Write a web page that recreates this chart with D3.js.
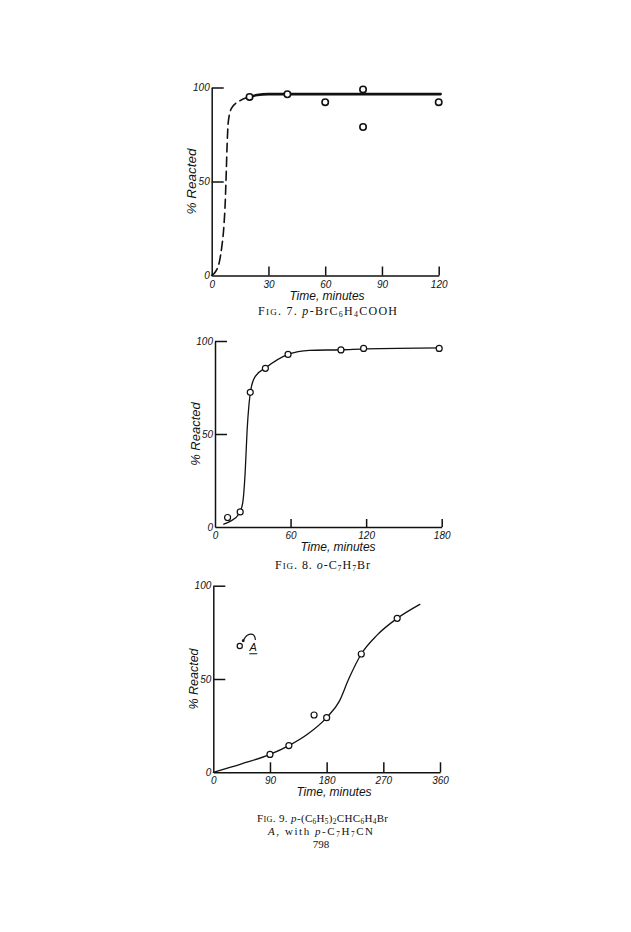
<!DOCTYPE html>
<html><head><meta charset="utf-8">
<script src="https://cdn.jsdelivr.net/npm/d3@7"></script>
<style>
html,body{margin:0;padding:0;background:#fff;}
svg{display:block;}
.tick text{font-family:"Liberation Sans",Arial,sans-serif;font-style:italic;font-size:10px;fill:#111;}
.ax path,.ax line{stroke:#111;stroke-width:1.5;}
.lab{font-family:"Liberation Sans",Arial,sans-serif;font-style:italic;fill:#111;}
.cap{font-family:"Liberation Serif","DejaVu Serif",serif;fill:#111;}
</style></head>
<body>
<svg id="c" width="631" height="932"></svg>
<script>
// ---------- data ----------
// Fig. 7
const fig7Ticks = [0, 30, 60, 90, 120];
const fig7Points = [[20,95],[40,96.4],[60,92.2],[80,99],[80,79],[120,92.2]];
const fig7Dashed = [[0,0],[2,2],[4,7],[5.3,15],[6.5,27],[7.2,40],[7.7,55],[8.1,68],[8.8,82],[10.5,89],[15,93],[20,95]];
const fig7Solid = [[20,95],[24,96],[30,96.5],[121,96.5]];
// Fig. 8
const fig8Ticks = [0, 60, 120, 180];
const fig8Points = [[10,5.1],[20,8.1],[28,72.4],[40,85.3],[58,92.8],[100,95.2],[118,96],[178,96]];
const fig8Curve = [[7,1.5],[12,3],[19,7],[22,13],[24,30],[25.5,52],[27,66],[28.5,74],[32,81],[40,85.5],[58,92.8],[75,95],[100,95.3],[120,95.8],[180,96.3]];
// Fig. 9
const fig9Ticks = [0, 90, 180, 270, 360];
const fig9Points = [[90,9.6],[120,14.3],[160,30.7],[180,29.3],[235,63.4],[292,82.5]];
const fig9PointA = [[42,67.7]];
const fig9Curve = [[0,0],[45,4.5],[90,9.6],[120,14.3],[150,20.5],[180,29.3],[200,38],[215,50],[235,63.4],[260,73.5],[292,82.5],[328,90]];
const fig9Arrow = [[67,71],[64,73.6],[54,73.4],[47.5,70.5]];
const fig9LabelA = [63.5, 67];
const yTicks = [0, 50, 100];

const svg = d3.select("#c");
svg.append("rect").attr("width",631).attr("height",932).attr("fill","#fff");

function chart(o){
  const g = svg.append("g");
  const x = d3.scaleLinear().domain([0,o.xmax]).range([o.x0,o.x1]);
  const y = d3.scaleLinear().domain([0,100]).range([o.y0,o.y1]);
  g.append("g").attr("class","ax").attr("transform",`translate(0,${o.y0})`)
    .call(d3.axisBottom(x).tickValues(o.xticks).tickSizeInner(-o.tick).tickSizeOuter(0).tickPadding(5).tickFormat(d3.format("d")))
    .call(s=>s.selectAll(".tick").filter(d=>d===0).select("line").remove());
  g.append("g").attr("class","ax").attr("transform",`translate(${o.x0},0)`)
    .call(d3.axisLeft(y).tickValues(yTicks).tickSizeInner(-12).tickSizeOuter(0).tickPadding(2).tickFormat(d3.format("d")))
    .call(s=>s.selectAll(".tick").filter(d=>d===0).select("line").remove());
  g.append("text").attr("class","lab").attr("font-size",o.ylabSize)
    .attr("transform",`translate(${o.x0-20},${(o.y0+o.y1)/2}) rotate(-90)`)
    .attr("text-anchor","middle").attr("dy","0.35em").text("% Reacted");
  g.append("text").attr("class","lab").attr("font-size",12)
    .attr("x",o.tlx).attr("y",o.y0+24).attr("text-anchor","middle").text("Time, minutes");
  return {g,x,y};
}
function line(c, data, w, dash, curve){
  const l = d3.line().x(d=>c.x(d[0])).y(d=>c.y(d[1])).curve(curve||d3.curveMonotoneX);
  c.g.append("path").attr("d",l(data)).attr("fill","none").attr("stroke","#111")
    .attr("stroke-width",w).attr("stroke-dasharray",dash||null).attr("stroke-linecap","round");
}
function pts(c, data, r, w){
  c.g.selectAll(null).data(data).enter().append("circle")
    .attr("cx",d=>c.x(d[0])).attr("cy",d=>c.y(d[1])).attr("r",r)
    .attr("fill","#fff").attr("stroke","#111").attr("stroke-width",w);
}
function caption(x, yy, fs, len, parts){
  const t = svg.append("text").attr("class","cap").attr("font-size",fs).attr("x",x).attr("y",yy).attr("text-anchor","middle");
  if(len) t.attr("textLength",len).attr("lengthAdjust","spacing");
  parts.forEach(p=>{
    const s = t.append("tspan").text(p.t);
    if(p.sc) s.attr("font-size",fs*0.75);
    if(p.i) s.attr("font-style","italic");
    if(p.sub) s.attr("font-size",fs*0.66).attr("dy","2");
    if(p.up) s.attr("dy","-2");
  });
}

// Fig 7
const c7 = chart({xmax:120,x0:211.7,x1:438.7,y0:275.5,y1:87.5,xticks:fig7Ticks,tick:9,ylabSize:13.5,tlx:327});
line(c7, fig7Dashed, 1.6, "9,5");
line(c7, fig7Solid, 2.6);
pts(c7, fig7Points, 3.2, 1.6);
caption(327.5, 315, 12, 139, [{t:"F"},{t:"IG",sc:1},{t:". 7.  "},{t:"p",i:1},{t:"-BrC"},{t:"6",sub:1},{t:"H",up:1},{t:"4",sub:1},{t:"COOH",up:1}]);

// Fig 8
const c8 = chart({xmax:180,x0:215,x1:441.7,y0:527,y1:341,xticks:fig8Ticks,tick:8,ylabSize:13,tlx:338});
line(c8, fig8Curve, 1.3);
pts(c8, fig8Points, 3, 1.2);
caption(322.5, 569, 12, 95, [{t:"F"},{t:"IG",sc:1},{t:". 8.  "},{t:"o",i:1},{t:"-C"},{t:"7",sub:1},{t:"H",up:1},{t:"7",sub:1},{t:"Br",up:1}]);

// Fig 9
const c9 = chart({xmax:360,x0:213.3,x1:440,y0:772.3,y1:585.7,xticks:fig9Ticks,tick:10,ylabSize:12.5,tlx:334});
line(c9, fig9Curve, 1.3);
pts(c9, fig9Points, 3, 1.2);
pts(c9, fig9PointA, 2.6, 1.2);
{
  const l = d3.line().x(d=>c9.x(d[0])).y(d=>c9.y(d[1])).curve(d3.curveCatmullRom);
  c9.g.append("path").attr("d",l(fig9Arrow)).attr("fill","none").attr("stroke","#111").attr("stroke-width",1.2);
  const e = fig9Arrow[fig9Arrow.length-1];
  c9.g.append("circle").attr("cx",c9.x(e[0])).attr("cy",c9.y(e[1])).attr("r",1.4).attr("fill","#111");
  const ax = c9.x(fig9LabelA[0]), ay = c9.y(fig9LabelA[1]);
  c9.g.append("text").attr("class","lab").attr("font-size",11).attr("x",ax).attr("y",ay+4)
    .attr("text-anchor","middle").attr("font-style","normal").text("A");
  c9.g.append("line").attr("x1",ax-4).attr("x2",ax+4).attr("y1",ay+6.5).attr("y2",ay+6.5).attr("stroke","#111").attr("stroke-width",1);
}
caption(322.5, 822, 11, 131, [{t:"F"},{t:"IG",sc:1},{t:". 9.  "},{t:"p",i:1},{t:"-(C"},{t:"6",sub:1},{t:"H",up:1},{t:"5",sub:1},{t:")",up:1},{t:"2",sub:1},{t:"CHC",up:1},{t:"6",sub:1},{t:"H",up:1},{t:"4",sub:1},{t:"Br",up:1}]);
caption(320.5, 835, 11, 105, [{t:"A",i:1},{t:", with "},{t:"p",i:1},{t:"-C"},{t:"7",sub:1},{t:"H",up:1},{t:"7",sub:1},{t:"CN",up:1}]);
caption(321, 848, 11, null, [{t:"798"}]);
</script>
</body></html>
